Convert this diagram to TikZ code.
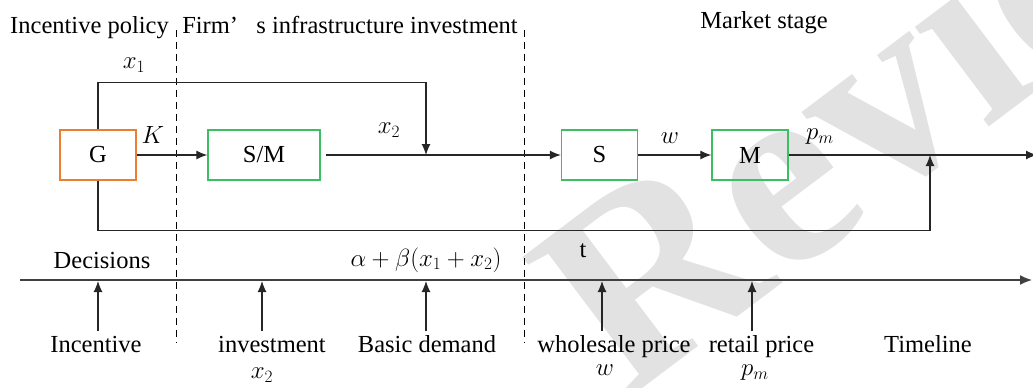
\documentclass[tikz,border=0pt]{standalone}
\usepackage{fontspec}
\setmainfont{Liberation Serif}
\usetikzlibrary{arrows.meta}
\definecolor{gorange}{RGB}{237,125,49}
\definecolor{bgreen}{RGB}{60,190,100}
\definecolor{wm}{RGB}{226,226,226}
\begin{document}
\begin{tikzpicture}[x=1pt,y=-1pt,
  every node/.style={font=\fontsize{24.5}{29}\selectfont, inner sep=0pt},
  gbox/.style={draw=gorange, line width=1.3pt, minimum width=76pt, minimum height=50pt},
  sbox/.style={draw=bgreen, line width=1.3pt, minimum height=50pt},
  conn/.style={line width=1.2pt, draw=black!85},
  arr/.style={conn, -{Latex[length=11pt,width=9pt]}},
  divider/.style={line width=1pt, dash pattern=on 7pt off 5pt},
  axisline/.style={line width=1.5pt, draw=black!75, -{Latex[length=12pt,width=10pt]}},
  lab/.style={anchor=base},
]
\useasboundingbox (0,0) rectangle (1033,388);
% watermark
\begin{scope}
\clip (0,0) rectangle (1033,388);
\node[text=wm, rotate=37, font=\fontsize{270}{270}\selectfont\bfseries] (wmark) at (905,75) {Review};
\end{scope}

% headers
\node[lab] (h1) at (89.5,33) {Incentive policy};
\node[lab] (h2) at (350,33) {Firm’\hspace{0.75em}s infrastructure investment};
\node[lab] (h3) at (764,28) {Market stage};

% dividers
\coordinate (d1a) at (176,30);
\coordinate (d1b) at (176,343);
\coordinate (d2a) at (524,30);
\coordinate (d2b) at (524,343);
\draw[divider] (d1a) -- (d1b);
\draw[divider] (d2a) -- (d2b);

% boxes
\node[gbox] (G) at (98,155) {G};
\node[sbox, minimum width=112pt] (SM) at (264,155) {S/M};
\node[sbox, minimum width=76pt] (S) at (599.5,155) {S};
\node[sbox, minimum width=76pt] (M) at (750,155) {M};

\coordinate (j1) at (426,155);
\coordinate (j2) at (930,155);
\coordinate (out) at (1037,155);

\draw[arr] (G.north) -- ++(0,-47) -| (j1);
\draw[arr] (G.south) -- ++(0,50) -| (j2);
\draw[arr] (G.east) -- (SM.west);
\draw[arr, shorten <=5pt] (SM.east) -- (S.west);
\draw[arr] (S.east) -- (M.west);
\draw[arr] (M.east) -- (out);

% connector labels
\node (x1) at (134,65) {$x_1$};
\node (K) at (153,135) {$K$};
\node (x2) at (389,130) {$x_2$};
\node (wl) at (670,138) {$w$};
\node (pml) at (820,137) {$p_m$};

% timeline
\coordinate (ta) at (20,280);
\coordinate (tb) at (1032,280);
\draw[axisline] (ta) -- (tb);
\node[lab] (dec) at (102,268) {Decisions};
\node[lab] (dem) at (426,266) {$\alpha+\beta(x_1+x_2)$};
\node[lab] (tt) at (583,257) {t};

\foreach \n/\x in {a/98,b/262,c/426,d/602,e/752}{
  \coordinate (s\n) at (\x,331);
  \coordinate (e\n) at (\x,281);
  \draw[arr] (s\n) -- (e\n);
}

\node[lab] (l1) at (96,352) {Incentive};
\node[lab] (l2) at (272,352) {investment};
\node (l2m) at (262,375) {$x_2$};
\node[lab] (l3) at (427,352) {Basic demand};
\node[lab] (l4) at (614,352) {wholesale price};
\node (l4m) at (605,370) {$w$};
\node[lab] (l5) at (761.5,352) {retail price};
\node (l5m) at (755,373) {$p_m$};
\node[lab] (l6) at (928,352) {Timeline};
\end{tikzpicture}
\end{document}
